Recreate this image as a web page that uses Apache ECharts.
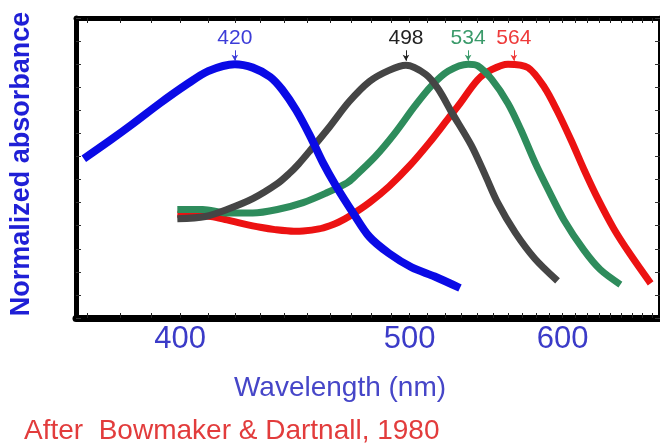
<!DOCTYPE html>
<html>
<head>
<meta charset="utf-8">
<title>Cone absorbance</title>
<script src="https://cdn.jsdelivr.net/npm/echarts@6/dist/echarts.min.js"></script>
<style>
  html, body { margin: 0; padding: 0; background: #fff; }
  #chart { width: 660px; height: 443px; }
</style>
</head>
<body>
<div id="chart"></div>
<script>
// wavelengths (nm) and normalized absorbance
var blueNm   = [369, 377, 384, 393, 402, 410, 420, 427, 434, 439, 445, 451, 457, 463, 471, 479, 489, 501, 514, 529];
var blueAbs  = [0.59, 0.67, 0.74, 0.83, 0.91, 0.97, 1.0, 0.985, 0.945, 0.89, 0.80, 0.69, 0.57, 0.47, 0.355, 0.252, 0.18, 0.12, 0.08, 0.03];

var grayNm   = [399, 409, 417, 427, 437, 442, 446, 451, 460, 469, 479, 489, 498, 509, 516, 524, 536, 545, 553, 565, 579, 596];
var grayAbs  = [0.33, 0.34, 0.37, 0.417, 0.482, 0.526, 0.567, 0.625, 0.73, 0.837, 0.925, 0.973, 0.995, 0.955, 0.893, 0.791, 0.648, 0.517, 0.40, 0.27, 0.157, 0.061];

var greenNm  = [399, 408, 417, 427, 437, 448, 458, 468, 472, 482, 492, 503, 512, 522, 534, 540, 549, 560, 569, 579, 589, 601, 617, 631, 649];
var greenAbs = [0.37, 0.37, 0.355, 0.355, 0.37, 0.40, 0.44, 0.485, 0.515, 0.60, 0.70, 0.82, 0.905, 0.97, 1.0, 0.993, 0.935, 0.83, 0.715, 0.575, 0.455, 0.325, 0.195, 0.11, 0.045];

var redNm    = [399, 411, 417, 423, 430, 436, 444, 448, 455, 460, 464, 469, 479, 489, 500, 511, 522, 528, 540, 549, 560, 574, 586, 596, 607, 617, 629, 643, 658, 678];
var redAbs   = [0.35, 0.34, 0.325, 0.309, 0.293, 0.283, 0.276, 0.277, 0.286, 0.30, 0.315, 0.34, 0.40, 0.47, 0.56, 0.66, 0.765, 0.82, 0.932, 0.976, 1.0, 0.985, 0.90, 0.795, 0.667, 0.546, 0.416, 0.287, 0.177, 0.05];

var peakNm   = [420, 498, 534, 564];
var labelNm  = [400, 500, 600];
var tickNm   = [370, 380, 390, 400, 410, 420, 430, 440, 450, 460, 470, 480, 490, 500, 510, 520, 530, 540, 550, 560, 570, 580, 590, 600, 610, 620, 630, 640, 650, 660, 670, 680];
var rangeNm  = [366.7, 687.5];

// the x axis is linear in 1/wavelength (like the original plot)
function toU(nm) { return 1000 / nm; }
function pairs(nm, abs) {
  return nm.map(function (w, i) { return [toU(w), abs[i]]; });
}

var myChart = echarts.init(document.getElementById('chart'));

function peakMark(nm, text, color) {
  return {
    silent: true,
    symbol: ['none', 'arrow'],
    symbolSize: [5, 6],
    lineStyle: { color: color, width: 1, type: 'solid' },
    label: { show: true, position: 'start', distance: 2, formatter: text, color: color, fontSize: 21, fontFamily: 'Liberation Sans' },
    data: [[{ coord: [toU(nm), 1.06] }, { coord: [toU(nm), 1.015] }]]
  };
}

function lineSeries(name, nm, abs, color, width, peak, labelColor) {
  return {
    name: name,
    type: 'line',
    data: pairs(nm, abs),
    smooth: 0.3,
    showSymbol: false,
    lineStyle: { color: color, width: width },
    markLine: peakMark(peak, String(peak), labelColor)
  };
}

var xBase = {
  type: 'value',
  inverse: true,
  min: toU(rangeNm[1]),
  max: toU(rangeNm[0]),
  splitLine: { show: false },
  axisTick: { inside: true, length: 5, customValues: tickNm.map(toU), lineStyle: { color: '#222', width: 1 } }
};

var yBase = {
  type: 'value',
  min: -0.1,
  max: 1.2,
  interval: 0.1,
  splitLine: { show: false },
  axisLine: { show: true, onZero: false, lineStyle: { color: '#000', width: 5 } },
  axisTick: { inside: true, length: 5, lineStyle: { color: '#333' } },
  axisLabel: { show: false }
};

var option = {
  backgroundColor: '#fff',
  animation: false,
  title: [
    {
      text: 'Wavelength (nm)',
      left: 335,
      textAlign: 'center',
      top: 369,
      textStyle: { color: '#4646c8', fontSize: 28, fontWeight: 'normal', fontFamily: 'Liberation Sans' }
    },
    {
      text: 'After  Bowmaker & Dartnall, 1980',
      left: 19,
      top: 412,
      textStyle: { color: '#e23c3c', fontSize: 28, fontWeight: 'normal', fontFamily: 'Liberation Sans' }
    }
  ],
  grid: { left: 75, right: -3, top: 18, bottom: 125 },
  xAxis: [
    Object.assign({}, xBase, {
      position: 'bottom',
      axisLine: { onZero: false, lineStyle: { color: '#000', width: 7 } },
      axisLabel: {
        customValues: labelNm.map(toU),
        formatter: function (v) { return Math.round(1000 / v); },
        color: '#3b3bc8',
        fontSize: 31,
        margin: 6,
        fontFamily: 'Liberation Sans'
      }
    }),
    Object.assign({}, xBase, {
      position: 'top',
      axisLine: { onZero: false, lineStyle: { color: '#000', width: 5 } },
      axisLabel: { show: false }
    })
  ],
  yAxis: [
    Object.assign({}, yBase, {
      position: 'left',
      name: 'Normalized absorbance',
      nameLocation: 'middle',
      nameGap: 41,
      nameTextStyle: { color: '#1f1fd6', fontSize: 27, fontWeight: 'bold', fontFamily: 'Liberation Sans', padding: [0, 0, 0, 8] }
    }),
    Object.assign({}, yBase, { position: 'right' })
  ],
  series: [
    lineSeries('564', redNm, redAbs, '#ec1212', 7, peakNm[3], '#ee3a3a'),
    lineSeries('534', greenNm, greenAbs, '#2e8c5c', 7, peakNm[2], '#3a9a6a'),
    lineSeries('498', grayNm, grayAbs, '#454545', 7, peakNm[1], '#222'),
    lineSeries('420', blueNm, blueAbs, '#0a0ae6', 8, peakNm[0], '#3c3cd8')
  ]
};

myChart.setOption(option);
</script>
</body>
</html>
